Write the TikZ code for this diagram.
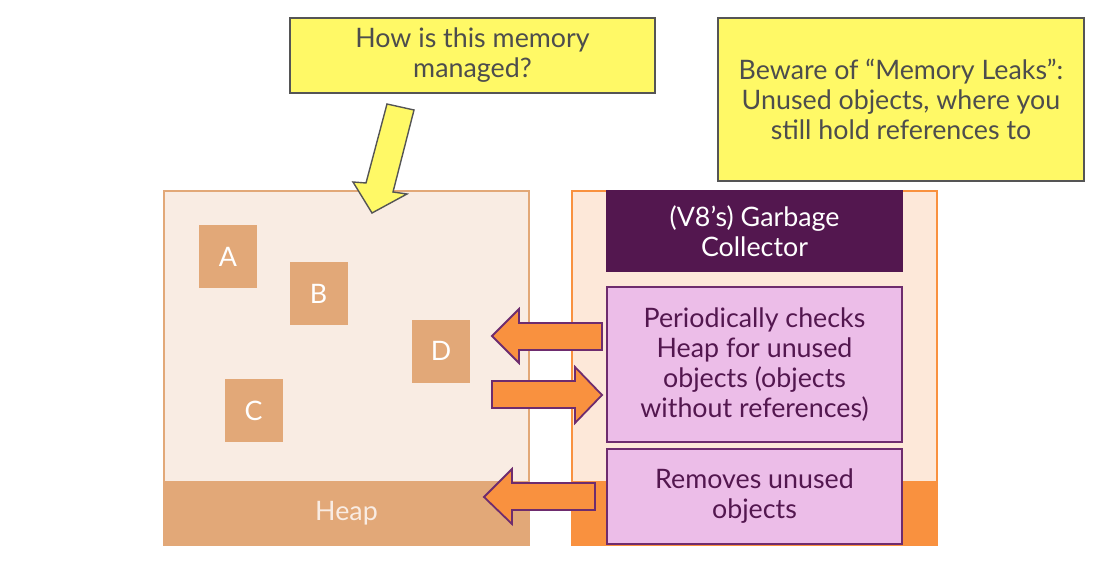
\documentclass[tikz,border=0pt]{standalone}
\usepackage{fontspec}
\setmainfont{Lato}
\usetikzlibrary{positioning}

\definecolor{heapbg}{HTML}{F9ECE3}
\definecolor{heaptan}{HTML}{E2A878}
\definecolor{gcbg}{HTML}{FDE8D9}
\definecolor{gcorange}{HTML}{F9913F}
\definecolor{gcpurple}{HTML}{53174F}
\definecolor{pinkfill}{HTML}{ECBDE8}
\definecolor{pinkline}{HTML}{6E2C6E}
\definecolor{notefill}{HTML}{FFF966}
\definecolor{noteline}{HTML}{555555}
\definecolor{notetext}{HTML}{4D4D4D}

\tikzset{
  base/.style={inner sep=0pt, outer sep=0pt, align=center,
    font=\fontsize{13.4}{15}\selectfont},
  panel/.style={base, minimum width=182.5pt, minimum height=177pt, line width=0.6pt},
  band/.style={base, minimum width=182.5pt, minimum height=32pt, anchor=south},
  object/.style={base, fill=heaptan, text=white, minimum width=29pt, minimum height=31.5pt},
  gcbox/.style={base, minimum width=147.5pt, draw=pinkline, line width=0.8pt},
  note/.style={base, fill=notefill, draw=noteline, line width=0.6pt, text=notetext},
  blockarrow/.style={fill=gcorange, draw=pinkline, line width=0.9pt, line join=miter},
}

\begin{document}
\begin{tikzpicture}[x=0.5pt, y=-0.5pt]
  \useasboundingbox (0,0) rectangle (1103,567);

  % heap side
  \node[panel, fill=heapbg, draw=heaptan] (heap) at (346.5,368) {};
  \node[band, fill=heaptan, text=heapbg] (heapbar) at (heap.south) {Heap};
  \node[object] (A) at (228,256.5) {A};
  \node[object] (B) at (318.5,293.5) {B};
  \node[object] (D) at (441,351) {D};
  \node[object] (C) at (253.5,410.5) {C};

  % garbage collector side
  \node[panel, fill=gcbg, draw=gcorange] (gc) at (754.5,368) {};
  \node[band, fill=gcorange] (gcbar) at (gc.south) {};
  \node[gcbox, fill=gcpurple, draw=gcpurple, text=white, minimum height=40pt]
    (title) at (754.5,231) {(V8’s) Garbage\\Collector};
  \node[gcbox, fill=pinkfill, text=gcpurple, minimum height=77.5pt]
    (check) at (754.5,364.5) {Periodically checks\\Heap for unused\\objects (objects\\without references)};
  \node[gcbox, fill=pinkfill, text=gcpurple, minimum height=47.5pt]
    (remove) at (754.5,496.5) {Removes unused\\objects};

  % notes
  \node[note, minimum width=182.5pt, minimum height=37.5pt] (question) at (472.5,55.5)
    {How is this memory\\managed?};
  \node[note, minimum width=183pt, minimum height=81.5pt] (leaks) at (901,99.5)
    {Beware of “Memory Leaks”:\\Unused objects, where you\\still hold references to};

  % arrows
  \draw[fill=notefill, draw=noteline, line width=0.7pt, line join=miter]
    (387,104) -- (414,110) -- (393,192) -- (407,194) -- (372,213) -- (353,182) -- (366,183) -- cycle;
  \draw[blockarrow] (602,323) -- (519,323) -- (519,309) -- (492,336) -- (519,363) -- (519,350) -- (602,350) -- cycle;
  \draw[blockarrow] (492,381) -- (575,381) -- (575,367) -- (602,395) -- (575,423) -- (575,408) -- (492,408) -- cycle;
  \draw[blockarrow] (595,483) -- (512,483) -- (512,469) -- (484,497) -- (512,524) -- (512,510) -- (595,510) -- cycle;
\end{tikzpicture}
\end{document}
